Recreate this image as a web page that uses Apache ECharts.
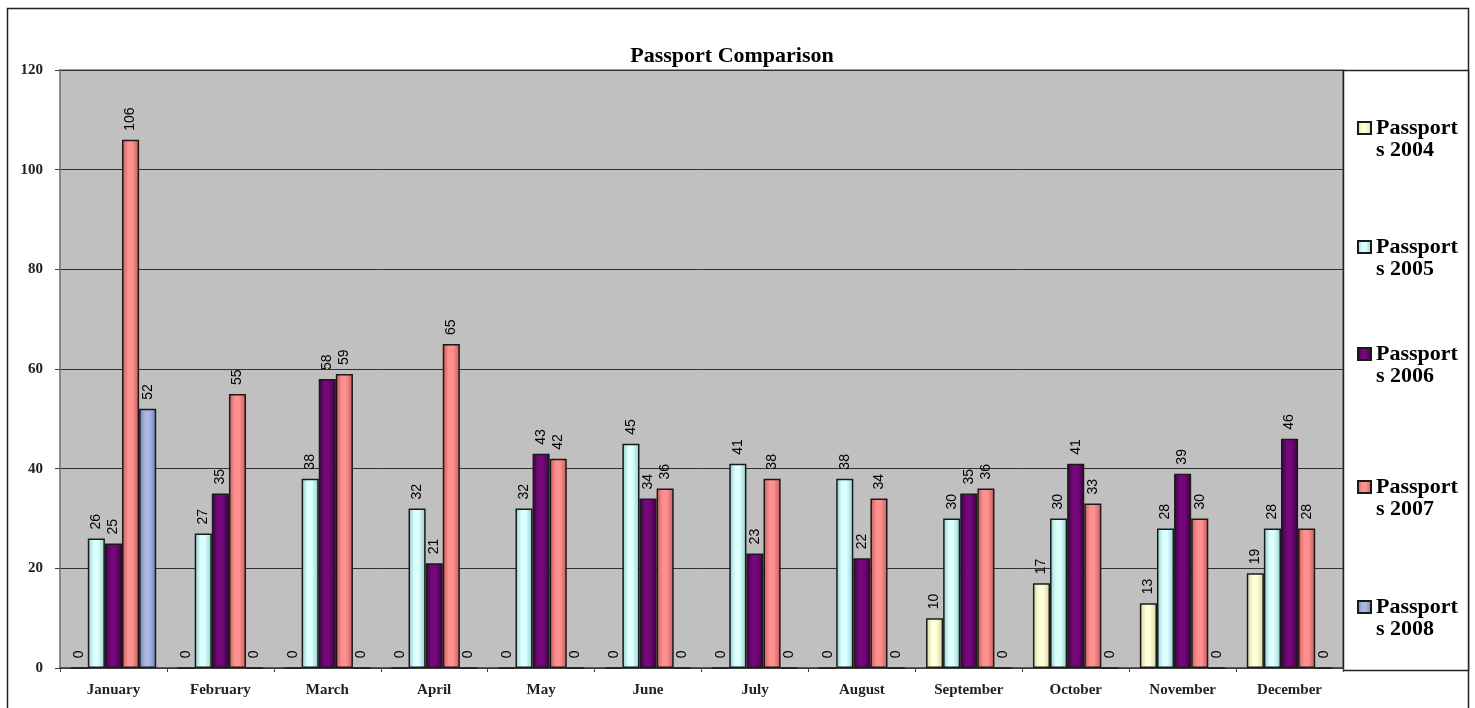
<!DOCTYPE html>
<html>
<head>
<meta charset="utf-8">
<script src="https://cdn.jsdelivr.net/npm/echarts@6/dist/echarts.min.js"></script>
<style>
  html, body { margin: 0; padding: 0; background: #fff; }
  #chart { width: 1475px; height: 708px; }
</style>
</head>
<body>
<div id="chart"></div>
<script>
// Monthly passport counts per year
const months = ['January', 'February', 'March', 'April', 'May', 'June',
                'July', 'August', 'September', 'October', 'November', 'December'];
const passports2004 = [0, 0, 0, 0, 0, 0, 0, 0, 10, 17, 13, 19];
const passports2005 = [26, 27, 38, 32, 32, 45, 41, 38, 30, 30, 28, 28];
const passports2006 = [25, 35, 58, 21, 43, 34, 23, 22, 35, 41, 39, 46];
const passports2007 = [106, 55, 59, 65, 42, 36, 38, 34, 36, 33, 30, 28];
const passports2008 = [52, 0, 0, 0, 0, 0, 0, 0, 0, 0, 0, 0];
const yTicks = { min: 0, max: 120, interval: 20 };

const seriesDefs = [
  { name: 'Passports 2004', data: passports2004, base: '#ffffd8', edge: '#d2d2a0' },
  { name: 'Passports 2005', data: passports2005, base: '#dcffff', edge: '#94cccc' },
  { name: 'Passports 2006', data: passports2006, base: '#74087a', edge: '#3d0040' },
  { name: 'Passports 2007', data: passports2007, base: '#ff9090', edge: '#c85a5a' },
  { name: 'Passports 2008', data: passports2008, base: '#a8b8e2', edge: '#6f82b4' }
];

// vertical position (first text line) of each legend entry in the side panel
const legendLineY = [123, 242, 349, 482, 602];

const serif = 'Liberation Serif, Times New Roman, serif';
const legendLine = 22;

function shade(base, edge) {
  return new echarts.graphic.LinearGradient(0, 0, 1, 0, [
    { offset: 0, color: edge },
    { offset: 0.35, color: base },
    { offset: 0.6, color: base },
    { offset: 1, color: edge }
  ]);
}

const chart = echarts.init(document.getElementById('chart'), null, { renderer: 'canvas' });

// one legend block per series so each entry sits at its own height;
// a blank leading line keeps the swatch level with the first word line
const legends = seriesDefs.map(function (s, i) {
  return {
    orient: 'vertical',
    left: 1352,
    top: legendLineY[i] - 1.5 * legendLine,
    itemWidth: 13,
    itemHeight: 12,
    icon: 'rect',
    selectedMode: false,
    z: 5,
    formatter: function (name) {
      return ' \n' + name.slice(0, 8) + '\n' + name.slice(8);
    },
    textStyle: {
      fontFamily: serif,
      fontWeight: 'bold',
      fontSize: 22,
      lineHeight: legendLine,
      color: '#000'
    },
    data: [s.name]
  };
});

const option = {
  backgroundColor: '#ffffff',
  animation: false,
  title: {
    text: 'Passport Comparison',
    left: 727,
    top: 40,
    textAlign: 'center',
    textStyle: { fontFamily: serif, fontWeight: 'bold', fontSize: 22, color: '#000' }
  },
  graphic: [
    {
      type: 'rect',
      shape: { x: 7.5, y: 8.5, width: 1461, height: 720 },
      style: { fill: 'none', stroke: '#222', lineWidth: 1.5 },
      silent: true
    },
    {
      type: 'rect',
      shape: { x: 1343.5, y: 70.5, width: 125, height: 600 },
      style: { fill: '#ffffff', stroke: '#222', lineWidth: 1.5 },
      silent: true,
      z: 0
    }
  ],
  legend: legends,
  grid: {
    left: 60,
    top: 70,
    width: 1283,
    height: 598,
    show: true,
    backgroundColor: '#c0c0c0',
    borderColor: '#808080',
    borderWidth: 1.5
  },
  xAxis: {
    type: 'category',
    data: months,
    axisLine: { lineStyle: { color: '#404040', width: 1.5 } },
    axisTick: { show: true, length: 4, lineStyle: { color: '#404040' } },
    axisLabel: { margin: 15, fontFamily: serif, fontWeight: 'bold', fontSize: 15, color: '#222' }
  },
  yAxis: {
    type: 'value',
    min: yTicks.min,
    max: yTicks.max,
    interval: yTicks.interval,
    axisLine: { show: true, lineStyle: { color: '#808080', width: 1.5 } },
    axisTick: { show: true, length: 5, lineStyle: { color: '#404040' } },
    axisLabel: { margin: 17, fontFamily: serif, fontWeight: 'bold', fontSize: 15, color: '#222' },
    splitLine: { lineStyle: { color: '#303030', width: 1 } }
  },
  series: seriesDefs.map(function (s) {
    return {
      name: s.name,
      type: 'bar',
      data: s.data,
      barGap: '0%',
      barCategoryGap: '20%',
      itemStyle: {
        color: shade(s.base, s.edge),
        borderColor: '#1a1a1a',
        borderWidth: 1.5
      },
      label: {
        show: true,
        position: 'top',
        rotate: 90,
        align: 'left',
        verticalAlign: 'middle',
        distance: 9,
        fontFamily: 'Liberation Sans, Arial, sans-serif',
        fontSize: 14,
        color: '#000'
      }
    };
  })
};

chart.setOption(option);
</script>
</body>
</html>
